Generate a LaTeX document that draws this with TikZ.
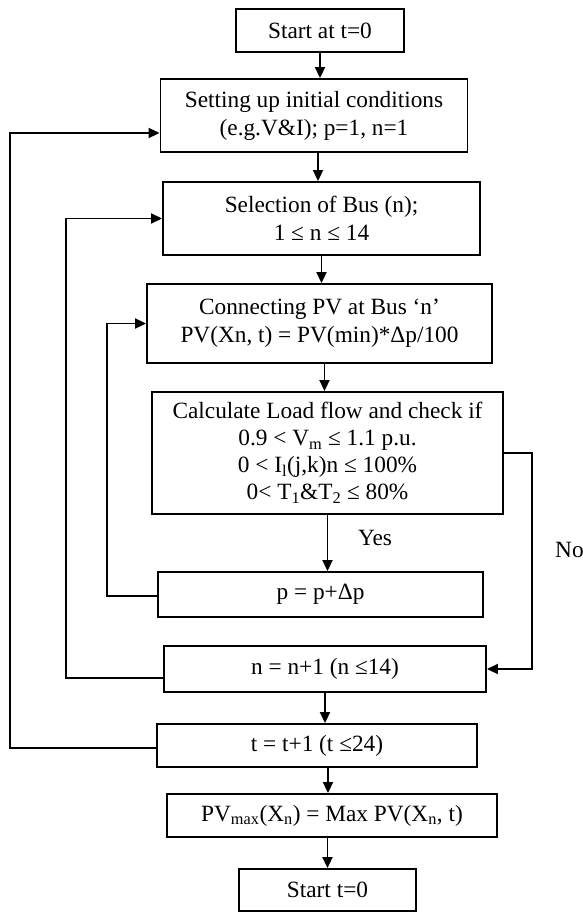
\documentclass[tikz,border=0pt]{standalone}
\usepackage{fontspec}
\setmainfont{Liberation Serif}
\usetikzlibrary{arrows.meta}
\begin{document}
\begin{tikzpicture}[x=1pt,y=-1pt,
  box/.style={draw,line width=1.9pt,inner sep=0pt,align=center,
    font=\fontsize{23.3}{28}\selectfont},
  arr/.style={line width=1.9pt,-{Triangle[length=11pt,width=10pt]}},
  lbl/.style={font=\fontsize{23.3}{28}\selectfont,inner sep=0pt}]
\useasboundingbox (0,0) rectangle (583,912);
% boxes (centre, width, height in px)
\node[box,minimum width=168pt,minimum height=43pt] (s1) at (320,30.5) {Start at t=0};
\node[box,minimum width=307pt,minimum height=73pt] (set) at (314,115.5) {Setting up initial conditions\\(e.g.V\&I); p=1, n=1};
\node[box,minimum width=317pt,minimum height=73pt] (sel) at (321.5,218.5) {Selection of Bus (n);\\1 ≤ n ≤ 14};
\node[box,minimum width=345pt,minimum height=79pt] (pv) at (319.5,323.5) {Connecting PV at Bus ‘n’\\PV(Xn, t) = PV(min)*Δp/100};
\node[box,minimum width=351pt,minimum height=122pt,font=\fontsize{23.3}{27}\selectfont] (calc) at (327.5,453) {Calculate Load flow and check if\\0.9 < V\textsubscript{m} ≤ 1.1 p.u.\\0 < I\textsubscript{l}(j,k)n ≤ 100\%\\0< T\textsubscript{1}\&T\textsubscript{2} ≤ 80\%};
\node[box,minimum width=325pt,minimum height=45pt] (p) at (320.5,594.5) {p = p+Δp};
\node[box,minimum width=322pt,minimum height=46pt] (n) at (325,669) {n = n+1 (n ≤14)};
\node[box,minimum width=320pt,minimum height=43pt] (t) at (317,745.5) {t = t+1 (t ≤24)};
\node[box,minimum width=330pt,minimum height=43pt] (pvm) at (332,815.5) {PV\textsubscript{max}(X\textsubscript{n}) = Max PV(X\textsubscript{n}, t)};
\node[box,minimum width=177pt,minimum height=42pt] (s2) at (327.5,890) {Start t=0};
% labels
\node[lbl] (yes) at (375,538) {Yes};
\node[lbl,anchor=west] (no) at (555,550) {No};
% main flow
\draw[arr] (s1.south) -- (s1.south |- set.north);
\draw[arr] ([xshift=4pt]set.south) -- ([xshift=4pt]set.south |- sel.north);
\draw[arr] (sel.south) -- (sel.south |- pv.north);
\draw[arr] ([xshift=5pt]pv.south) -- ([xshift=5pt]pv.south |- calc.north);
\draw[arr] (calc.south) -- (calc.south |- p.north);
\draw[arr] (n.south) -- (n.south |- t.north);
\draw[arr] ([xshift=11pt]t.south) -- ([xshift=11pt]t.south |- pvm.north);
\draw[arr] (s2.north |- pvm.south) -- (s2.north);
% loops
\coordinate (c1) at (107,0);
\coordinate (c2) at (66,0);
\coordinate (c3) at (10,0);
\coordinate (c4) at (532,0);
\coordinate (setin) at ([yshift=-17.5pt]set.west);
\coordinate (pout) at ([yshift=-1.5pt]p.west);
\coordinate (nout) at ([yshift=-9pt]n.west);
\coordinate (tout) at ([yshift=-2.5pt]t.west);
\draw[arr] (pout) -- (pout -| c1) -- (c1 |- pv.west) -- (pv.west);
\draw[arr] (nout) -- (nout -| c2) -- (c2 |- sel.west) -- (sel.west);
\draw[arr] (tout) -- (tout -| c3) -- (c3 |- setin) -- (setin);
\draw[arr] (calc.east) -- (calc.east -| c4) -- (c4 |- n.east) -- (n.east);
\end{tikzpicture}
\end{document}
